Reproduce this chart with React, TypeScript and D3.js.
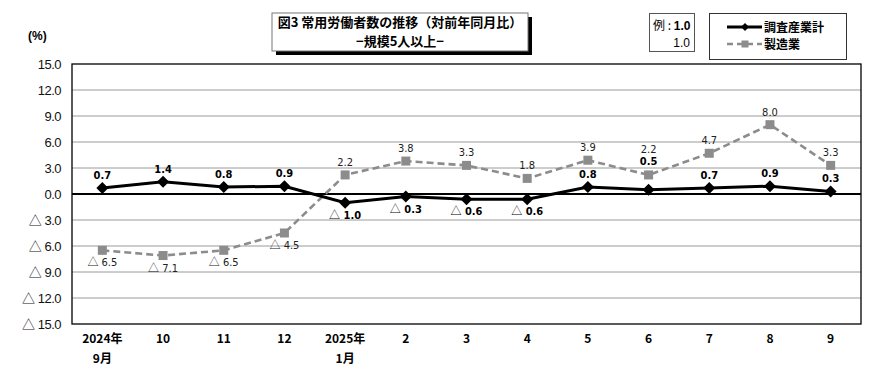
import React from "react";
import * as d3 from "d3";

const categories = ["2024年\n9月", "10", "11", "12", "2025年\n1月", "2", "3", "4", "5", "6", "7", "8", "9"];
const totalValues = [0.7, 1.4, 0.8, 0.9, -1.0, -0.3, -0.6, -0.6, 0.8, 0.5, 0.7, 0.9, 0.3];
const mfgValues = [-6.5, -7.1, -6.5, -4.5, 2.2, 3.8, 3.3, 1.8, 3.9, 2.2, 4.7, 8.0, 3.3];
const yTicks = [15, 12, 9, 6, 3, 0, -3, -6, -9, -12, -15];
const titleLines = ["図3  常用労働者数の推移（対前年同月比）", "−規模5人以上−"];
const seriesNames = ["調査産業計", "製造業"];

const W = 890, H = 370;
const M = { left: 72, right: 861, top: 64, bottom: 324 };

const JP = "'Noto Sans CJK JP', sans-serif";
const NUM = "'Liberation Sans', Arial, sans-serif";
const NARROW = "'DejaVu Sans Condensed', 'DejaVu Sans', sans-serif";

function Val({ v }: { v: number }) {
  if (v >= 0) return <>{v.toFixed(1)}</>;
  return (
    <>
      <tspan fontFamily={JP} fontWeight={400}>△</tspan>
      {" " + Math.abs(v).toFixed(1)}
    </>
  );
}

export default function App() {
  const x = d3.scaleBand<number>().domain(d3.range(categories.length)).range([M.left, M.right]);
  const cx = (i: number) => (x(i) as number) + x.bandwidth() / 2;
  const y = d3.scaleLinear().domain([-15, 15]).range([M.bottom, M.top]);
  const line = d3.line<number>().x((_, i) => cx(i)).y((d) => y(d));

  const diamond = (px: number, py: number, r: number) =>
    `M${px},${py - r}L${px + r},${py}L${px},${py + r}L${px - r},${py}Z`;

  // label baselines, avoiding collisions between the two series
  const mfgLabelY = mfgValues.map((v) => (v >= 0 ? y(v) - 9 : y(v) + 16));
  const totLabelY = totalValues.map((v) => (v >= 0 ? y(v) - 9 : y(v) + 16));
  totalValues.forEach((v, i) => {
    if (Math.abs(totLabelY[i] - mfgLabelY[i]) < 16) {
      mfgLabelY[i] = y(mfgValues[i]) - 22;
      totLabelY[i] = y(mfgValues[i]) - 9.5;
    }
  });

  return (
    <svg width={W} height={H} style={{ position: "absolute", left: 0, top: 0, background: "#fff" }}>
      {/* title box */}
      <rect x={276} y={17} width={256} height={38} fill="#000" />
      <rect x={272} y={13} width={256} height={38} fill="#fff" stroke="#777" strokeWidth={1} />
      {titleLines.map((t, i) => (
        <text key={i} x={400} y={27 + i * 19} textAnchor="middle" fontFamily={JP} fontSize={13} fontWeight={600}>
          {t}
        </text>
      ))}
      {/* example box */}
      <rect x={649.5} y={13.5} width={45} height={38} fill="#fff" stroke="#555" />
      <text x={653} y={30} fontFamily={JP} fontSize={12}>
        例 : <tspan fontWeight={700} fontFamily={NUM}>1.0</tspan>
      </text>
      <text x={690} y={47} textAnchor="end" fontFamily={NUM} fontSize={12}>1.0</text>
      {/* legend */}
      <rect x={709.5} y={13.5} width={137} height={46} fill="#fff" stroke="#333" />
      <line x1={727} x2={762} y1={27} y2={27} stroke="#000" strokeWidth={3} />
      <path d={diamond(745, 27, 4)} fill="#000" />
      <text x={764} y={31.5} fontFamily={JP} fontSize={12} fontWeight={700}>{seriesNames[0]}</text>
      <line x1={727} x2={762} y1={44} y2={44} stroke="#8c8c8c" strokeWidth={2.5} strokeDasharray="6,4" />
      <rect x={741.5} y={40.5} width={7} height={7} fill="#8c8c8c" />
      <text x={764} y={49} fontFamily={JP} fontSize={12} fontWeight={700}>{seriesNames[1]}</text>

      {/* (%) */}
      <text x={28} y={40} fontFamily={NUM} fontSize={12} fontWeight={700}>(%)</text>

      {/* grid */}
      {yTicks.map((t) => (
        <g key={t}>
          {t !== 0 && t !== 15 && t !== -15 && (
            <line x1={M.left} x2={M.right} y1={y(t)} y2={y(t)} stroke="#9a9a9a" strokeWidth={1} />
          )}
          <text x={61} y={y(t) + 5} textAnchor="end" fontFamily={NUM} fontSize={13} letterSpacing={-0.5} fill="#111">
            <Val v={t} />
          </text>
        </g>
      ))}
      <rect x={M.left} y={M.top} width={M.right - M.left} height={M.bottom - M.top} fill="none" stroke="#000" strokeWidth={1.3} />
      <line x1={M.left} x2={M.right} y1={y(0)} y2={y(0)} stroke="#000" strokeWidth={2} />

      {/* x labels */}
      {categories.map((c, i) => (
        <text key={i} textAnchor="middle" fontFamily={JP} fontSize={12} fontWeight={700}>
          {c.split("\n").map((s, j) => (
            <tspan key={j} x={cx(i)} y={343 + j * 20}>{s}</tspan>
          ))}
        </text>
      ))}

      {/* manufacturing */}
      <path d={line(mfgValues) as string} fill="none" stroke="#8c8c8c" strokeWidth={2.6} strokeDasharray="7,4" />
      {mfgValues.map((v, i) => (
        <rect key={i} x={cx(i) - 4.5} y={y(v) - 4.5} width={9} height={9} fill="#8c8c8c" />
      ))}
      {mfgValues.map((v, i) => (
        <text key={i} x={cx(i)} y={mfgLabelY[i]} textAnchor="middle" fontFamily={NARROW} fontSize={11} fill="#222">
          <Val v={v} />
        </text>
      ))}

      {/* total */}
      <path d={line(totalValues) as string} fill="none" stroke="#000" strokeWidth={3} />
      {totalValues.map((v, i) => (
        <path key={i} d={diamond(cx(i), y(v), 6)} fill="#000" />
      ))}
      {totalValues.map((v, i) => (
        <text key={i} x={cx(i)} y={totLabelY[i]} textAnchor="middle" fontFamily={NARROW} fontSize={11} fontWeight={700} fill="#000">
          <Val v={v} />
        </text>
      ))}
    </svg>
  );
}
